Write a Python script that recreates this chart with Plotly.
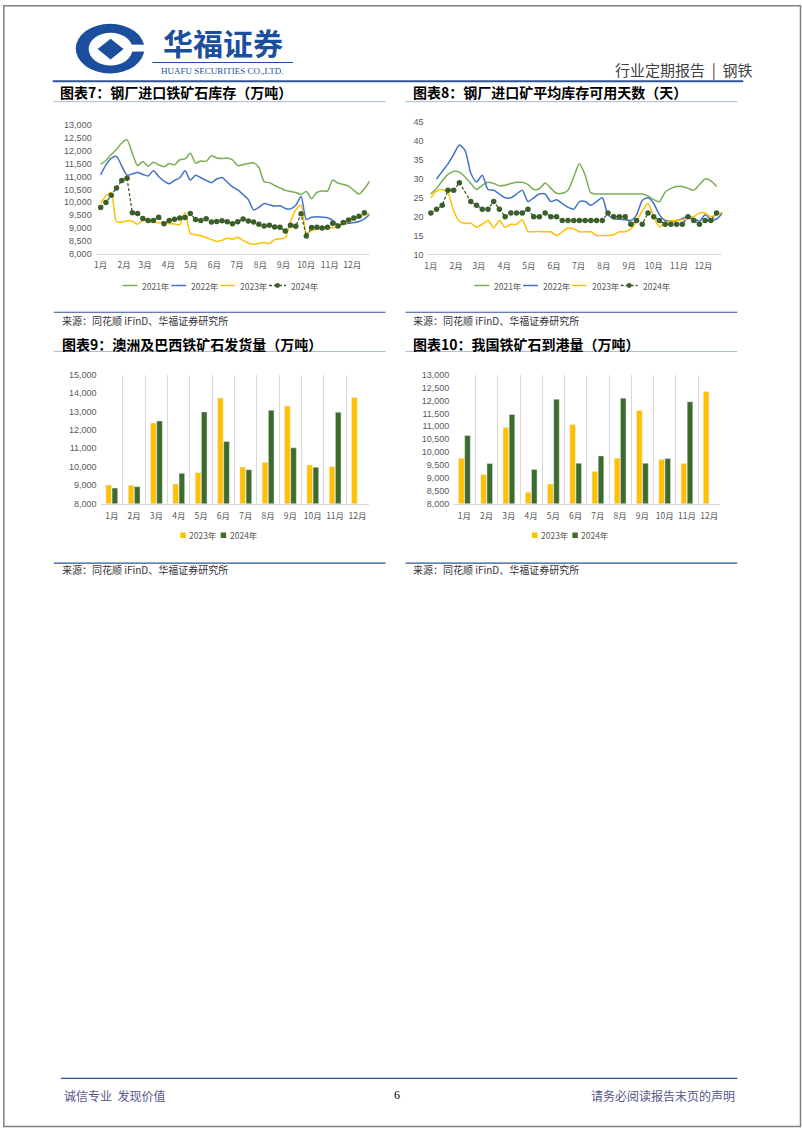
import plotly.graph_objects as go
import pandas as pd

W, H = 802, 1133


def X(px):
    return px / W


def Y(py):
    return 1 - py / H


months = [f"{i}月" for i in range(1, 13)]

# ---------------- Chart 7: 钢厂进口铁矿石库存（万吨）, weekly ----------------
inv_2021 = [11480, 11620, 11850, 12050, 12300, 12420, 11900, 11420, 11580, 11400,
            11550, 11450, 11380, 11500, 11450, 11650, 11680, 11900, 11520, 11600,
            11590, 11800, 11720, 11700, 11720, 11640, 11420, 11460, 11500, 11530,
            11350, 10800, 10760, 10650, 10560, 10460, 10420, 10380, 10300, 10420,
            10140, 10380, 10440, 10430, 10860, 10740, 10690, 10630, 10460, 10320,
            10520, 10820]
inv_2022 = [11060, 11450, 11700, 11780, 11400, 11050, 11100, 11150, 11080, 11020,
            11220, 11000, 10820, 10720, 10850, 10950, 11220, 10860, 11050, 10950,
            10850, 10760, 10900, 10960, 10780, 10600, 10480, 10300, 10100, 9700,
            9800, 9950, 9900, 9850, 9860, 9760, 9740, 9880, 10220, 9330,
            9420, 9440, 9420, 9400, 9300, 9120, 9150, 9180, 9210, 9250,
            9350, 9530]
inv_2023 = [9950, 10250, 10380, 9250, 9230, 9280, 9260, 9150, 9300, 9250,
            9230, 9200, 9180, 9170, 9160, 9130, 9600, 8800, 8740, 8700,
            8630, 8550, 8480, 8520, 8600, 8570, 8640, 8520, 8420, 8370,
            8400, 8440, 8400, 8550, 8580, 8620, 9250, 9700, 9880, 8780,
            8900, 8950, 8980, 9000, 9020, 9050, 9150, 9240, 9330, 9430,
            9500, 9560]
inv_2024 = [9800, 9990, 10270, 10550, 10840, 10930, 9590, 9565, 9365, 9290,
            9290, 9415, 9165, 9295, 9340, 9385, 9405, 9560, 9335, 9295,
            9360, 9230, 9250, 9280, 9244, 9165, 9244, 9350, 9275, 9230,
            9150, 9077, 9110, 9040, 9026, 8885, 9110, 9065, 9550, 8692,
            9020, 9026, 9000, 9026, 9180, 9077, 9210, 9308, 9385, 9461,
            9590]

# ---------------- Chart 8: 钢厂进口矿平均库存可用天数（天）, weekly ----------------
days_2021 = [26, 27.5, 29.5, 31.2, 32, 31.8, 30.5, 28.8, 27.2, 28.3,
             29.1, 28.8, 28.2, 28.3, 28.8, 29.1, 29.1, 28.5, 27.2, 27.4,
             28.9, 27.5, 26.2, 26.2, 27, 30.5, 34, 31, 26.3, 26,
             26, 26, 26, 26, 26, 26, 26, 26, 25.5, 24.5,
             24, 26.5, 27.5, 28, 28, 27.5, 27, 28.5, 30, 29.5,
             28]
days_2022 = [None, 30, 32, 34, 36.5, 39, 37.5, 31.5, 29.2, 31,
             27.2, 27, 26, 25, 25, 26, 27, 24, 25, 26,
             26, 24, 24.5, 23.5, 22.5, 22, 24, 24, 23, 24,
             25, 20.5, 19.5, 19.3, 19.2, 19, 20.5, 24.3, 25, 23.5,
             20.5, 19, 18.8, 19, 19.5, 20.2, 19.6, 18.8, 20.5, 19.3,
             19.4, 21]
days_2023 = [25, 26.8, 27.2, 26.3, 21.5, 18.8, 18.2, 18.3, 17.2, 18,
             19, 17.1, 19, 17.2, 18, 18, 19.2, 16.1, 16, 16.1,
             16, 16, 15, 16, 17, 16.8, 16, 16, 16, 15,
             15, 15, 15.2, 16, 16, 16.8, 18.8, 21.5, 23.5, 20,
             17.3, 18.5, 18.8, 19, 19.2, 19.6, 20, 21, 21, 20,
             20.5, 21.2]
days_2024 = [21, 22, 23, 27, 27, 29, None, 24, 23, 22,
             22, 24, 22, 20, 21, 21, 21, 22, 20, 20,
             21, 20, 20, 19, 19, 19, 19, 19, 19, 19,
             19, 21, 20, 20, 20, 18, 19, 18, 21, 20,
             19, 18, 18, 18, 18, 20, 19, 18, 19, 19,
             21]

# ---------------- Chart 9: 澳洲及巴西铁矿石发货量（万吨）, monthly ----------------
ship_2023 = [9010, 8990, 12370, 9065, 9680, 13740, 9985, 10240, 13300, 10095, 10000, 13760]
ship_2024 = [8840, 8920, 12490, 9640, 12980, 11375, 9840, 13070, 11030, 9970, 12960, None]

# ---------------- Chart 10: 我国铁矿石到港量（万吨）, monthly ----------------
arr_2023 = [9760, 9130, 10950, 8435, 8760, 11065, 9245, 9760, 11615, 9705, 9550, 12345]
arr_2024 = [10640, 9550, 11460, 9320, 12050, 9565, 9850, 12090, 9565, 9745, 11950, None]

# month start positions in week units
month_starts = pd.date_range("2023-01-01", periods=12, freq="MS")
month_weeks = ((month_starts - month_starts[0]).days / 7).tolist()

C21, C22, C23, C24 = "#7AAE55", "#4472C4", "#FFC000", "#3B5F2A"
BAR23, BAR24 = "#FFC000", "#3D6B2C"
TICK = "#595959"
AXIS = "#D9D9D9"
CJK = "Noto Sans CJK SC"
LAT = "Liberation Sans"

fig = go.Figure()


def weeks(vals):
    return list(range(len(vals)))


def add_lines(xa, ya, s21, s22, s23, s24):
    for vals, col in ((s21, C21), (s22, C22), (s23, C23)):
        fig.add_trace(go.Scatter(x=weeks(vals), y=vals, mode="lines", xaxis=xa, yaxis=ya,
                                 line=dict(color=col, width=1.5, shape="spline", smoothing=0.7),
                                 showlegend=False, hoverinfo="skip", connectgaps=False))
    fig.add_trace(go.Scatter(x=weeks(s24), y=s24, mode="lines+markers", xaxis=xa, yaxis=ya,
                             line=dict(color=C24, width=1.3, dash="3px,2px"),
                             marker=dict(color=C24, size=5.5),
                             connectgaps=True, showlegend=False, hoverinfo="skip"))


add_lines("x", "y", inv_2021, inv_2022, inv_2023, inv_2024)
add_lines("x2", "y2", days_2021, days_2022, days_2023, days_2024)

fig.add_trace(go.Bar(x=months, y=ship_2023, marker_color=BAR23, xaxis="x3", yaxis="y3",
                     showlegend=False, hoverinfo="skip"))
fig.add_trace(go.Bar(x=months, y=ship_2024, marker_color=BAR24, xaxis="x3", yaxis="y3",
                     showlegend=False, hoverinfo="skip"))
fig.add_trace(go.Bar(x=months, y=arr_2023, marker_color=BAR23, xaxis="x4", yaxis="y4",
                     showlegend=False, hoverinfo="skip"))
fig.add_trace(go.Bar(x=months, y=arr_2024, marker_color=BAR24, xaxis="x4", yaxis="y4",
                     showlegend=False, hoverinfo="skip"))


def line_xaxis(x0, x1, y_anchor, rng):
    return dict(domain=[X(x0), X(x1)], anchor=y_anchor, range=rng,
                tickmode="array", tickvals=month_weeks, ticktext=months,
                tickfont=dict(family=CJK, size=8.5, color=TICK), tickangle=0,
                showline=True, linecolor=AXIS, linewidth=1, showgrid=False,
                zeroline=False, ticks="", ticklabelstandoff=3, fixedrange=True)


def yaxis_cfg(top, bottom, x_anchor, rng, dtick, fmt=","):
    return dict(domain=[Y(bottom), Y(top)], anchor=x_anchor, range=rng, dtick=dtick,
                tickformat=fmt, tickfont=dict(family=LAT, size=9, color=TICK),
                showgrid=False, zeroline=False, showline=False, ticks="",
                ticklabelstandoff=3, fixedrange=True)


def bar_xaxis(x0, x1, y_anchor):
    return dict(domain=[X(x0), X(x1)], anchor=y_anchor, type="category",
                range=[-0.5, 11.5], tickson="boundaries", showgrid=True,
                gridcolor=AXIS, gridwidth=1, showline=True, linecolor=AXIS,
                ticks="", tickangle=0, tickfont=dict(family=CJK, size=8.5, color=TICK),
                ticklabelstandoff=4, zeroline=False, fixedrange=True)


fig.update_layout(
    width=W, height=H, autosize=False,
    margin=dict(l=0, r=0, t=0, b=0),
    paper_bgcolor="white", plot_bgcolor="white",
    barmode="group", bargap=0.45, bargroupgap=0.08,
    xaxis=line_xaxis(93, 368, "y", [-0.95, 51]),
    yaxis=yaxis_cfg(121, 251, "x", [8000, 13000], 500),
    xaxis2=line_xaxis(426, 722, "y2", [-0.6, 51]),
    yaxis2=yaxis_cfg(118.3, 251.7, "x2", [10, 45], 5, "d"),
    xaxis3=bar_xaxis(98, 367, "y3"),
    yaxis3=yaxis_cfg(373, 503, "x3", [8000, 15000], 1000),
    xaxis4=bar_xaxis(452, 720, "y4"),
    yaxis4=yaxis_cfg(373, 503, "x4", [8000, 13000], 500),
    showlegend=False,
)

shapes = []
ann = []


def hline(x0, x1, y, color, width):
    shapes.append(dict(type="line", xref="paper", yref="paper", x0=X(x0), x1=X(x1),
                       y0=Y(y), y1=Y(y), line=dict(color=color, width=width)))


def text(x, y, s, size, color, family=CJK, anchor="left", bold=False):
    if bold:
        s = f"<b>{s}</b>"
    ann.append(dict(xref="paper", yref="paper", x=X(x), y=Y(y), text=s, showarrow=False,
                    xanchor=anchor, yanchor="middle",
                    font=dict(family=family, size=size, color=color)))


# page border
shapes.append(dict(type="rect", xref="paper", yref="paper", x0=X(0.8), x1=X(800.5),
                   y0=Y(0.8), y1=Y(1131.5), line=dict(color="#808080", width=1.5)))

# logo
LOGO = "#1B4F9E"
shapes.append(dict(type="circle", xref="paper", yref="paper", x0=X(73), x1=X(142),
                   y0=Y(69), y1=Y(19), fillcolor=LOGO, line=dict(width=0)))
shapes.append(dict(type="circle", xref="paper", yref="paper", x0=X(86), x1=X(130),
                   y0=Y(61), y1=Y(28), fillcolor="white", line=dict(width=0)))
shapes.append(dict(type="rect", xref="paper", yref="paper", x0=X(118), x1=X(143),
                   y0=Y(47), y1=Y(40), fillcolor="white", line=dict(width=0)))
shapes.append(dict(type="path", xref="paper", yref="paper",
                   path=f"M {X(108)},{Y(34)} L {X(121)},{Y(44.5)} L {X(108)},{Y(55)} L {X(95)},{Y(44.5)} Z",
                   fillcolor=LOGO, line=dict(width=0)))
text(221, 37, "华福证券", 30, LOGO, bold=True, anchor="center")
hline(150, 291, 58, LOGO, 1)
text(220, 67, "HUAFU SECURITIES CO.,LTD.", 9, LOGO, family="Liberation Serif", anchor="center")

# header
text(755, 65, "行业定期报告  |  钢铁", 15, "#404040", anchor="right")
hline(50, 743, 77, "#2F5496", 2)

# chart titles and rules
text(55, 88, "图表7：钢厂进口铁矿石库存（万吨）", 14, "black", bold=True)
text(410, 88, "图表8：钢厂进口矿平均库存可用天数（天）", 14, "black", bold=True)
hline(51, 384, 97.5, "#A9B8D6", 1)
hline(404, 737, 97.5, "#A9B8D6", 1)

hline(51, 384, 310, "#2F5496", 1.2)
hline(404, 737, 310, "#2F5496", 1.2)
text(57, 318, "来源：同花顺 iFinD、华福证券研究所", 10, "#333333")
text(410, 318, "来源：同花顺 iFinD、华福证券研究所", 10, "#333333")

text(57, 342, "图表9：澳洲及巴西铁矿石发货量（万吨）", 14, "black", bold=True)
text(410, 342, "图表10：我国铁矿石到港量（万吨）", 14, "black", bold=True)
hline(51, 384, 349.5, "#A9B8D6", 1)
hline(404, 737, 349.5, "#A9B8D6", 1)

hline(51, 384, 563, "#2F5496", 1.2)
hline(404, 737, 563, "#2F5496", 1.2)
text(57, 570, "来源：同花顺 iFinD、华福证券研究所", 10, "#333333")
text(410, 570, "来源：同花顺 iFinD、华福证券研究所", 10, "#333333")

# footer
hline(58, 737, 1083, "#2F5496", 1.2)
text(59, 1100, "诚信专业  发现价值", 12, "#55558A")
text(395, 1100, "6", 12, "black", family="Liberation Serif", anchor="center")
text(737, 1100, "请务必阅读报告末页的声明", 12, "#55558A", anchor="right")

# legends (line charts)
legend_names = ["2021年", "2022年", "2023年", "2024年"]
legend_cols = [C21, C22, C23, C24]
for col_left in (51, 404):
    ly = 283
    for i, (nm, cl) in enumerate(zip(legend_names, legend_cols)):
        lx = col_left + 69 + 49 * i
        if i < 3:
            shapes.append(dict(type="line", xref="paper", yref="paper", x0=X(lx), x1=X(lx + 15),
                               y0=Y(ly), y1=Y(ly), line=dict(color=cl, width=1.5)))
            text(lx + 18, ly, nm, 8.5, TICK)
        else:
            shapes.append(dict(type="line", xref="paper", yref="paper", x0=X(lx), x1=X(lx + 17),
                               y0=Y(ly), y1=Y(ly), line=dict(color=cl, width=1.3, dash="3px,2px")))
            shapes.append(dict(type="circle", xref="paper", yref="paper", x0=X(lx + 6), x1=X(lx + 11),
                               y0=Y(ly + 2.5), y1=Y(ly - 2.5), fillcolor=cl, line=dict(width=0)))
            text(lx + 20, ly, nm, 8.5, TICK)

# legends (bar charts)
for col_left in (51, 404):
    ly = 535
    for i, (nm, cl) in enumerate(zip(["2023年", "2024年"], [BAR23, BAR24])):
        sx = col_left + 127 + 40.5 * i
        shapes.append(dict(type="rect", xref="paper", yref="paper", x0=X(sx), x1=X(sx + 5.5),
                           y0=Y(ly + 2.8), y1=Y(ly - 2.8), fillcolor=cl, line=dict(width=0)))
        text(sx + 7, ly, nm, 8.5, TICK)

fig.update_layout(shapes=shapes, annotations=ann)
fig.write_html("out.html", config={"displayModeBar": False})
